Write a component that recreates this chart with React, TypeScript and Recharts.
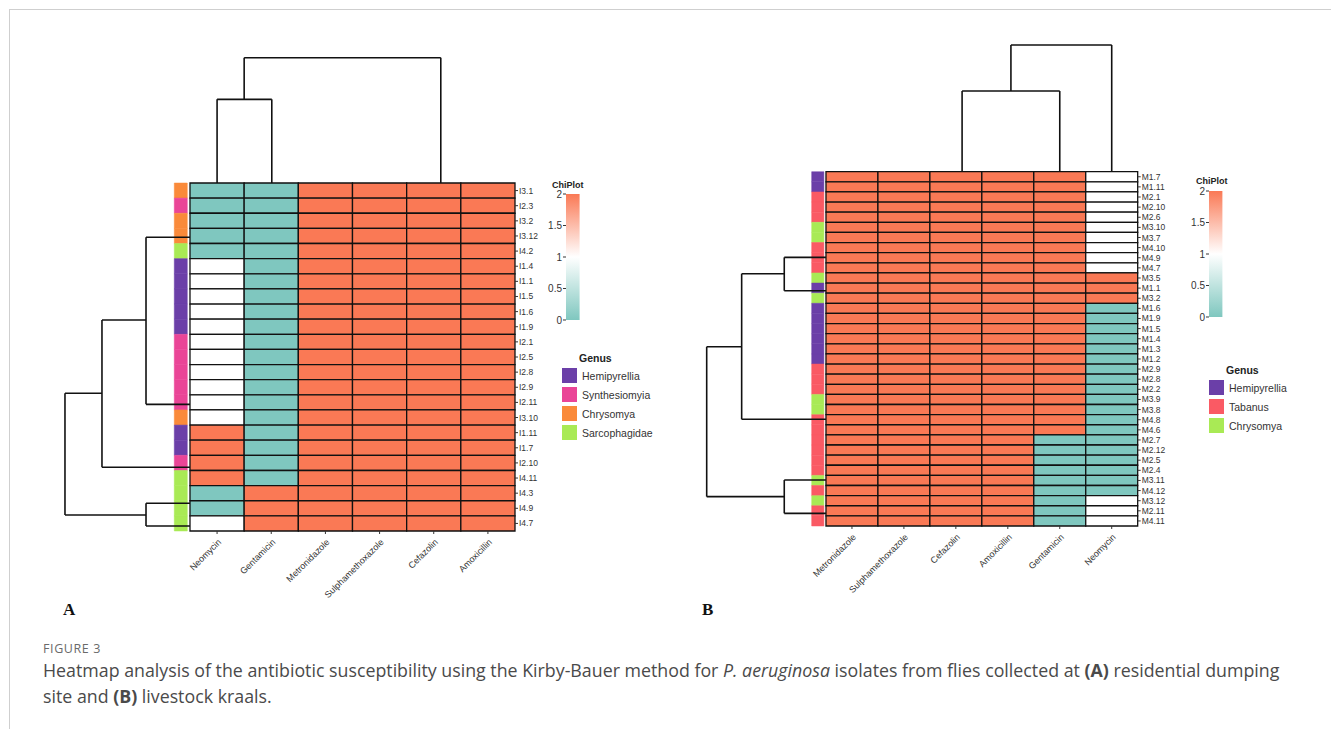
import React from 'react';
import { ComposedChart, XAxis, YAxis, ReferenceArea, ReferenceLine } from 'recharts';

// ---------- colours ----------
const TEAL = '#7FC7BF';
const RED = '#FA7955';
const WHITE = '#FFFFFF';
const valueColor = (v: number) => (v === 0 ? TEAL : v === 1 ? WHITE : RED);

// ---------- Panel A data ----------
const drugsA = ['Neomycin', 'Gentamicin', 'Metronidazole', 'Sulphamethoxazole', 'Cefazolin', 'Amoxicillin'];
const isolatesA = ['I3.1', 'I2.3', 'I3.2', 'I3.12', 'I4.2', 'I1.4', 'I1.1', 'I1.5', 'I1.6', 'I1.9', 'I2.1', 'I2.5', 'I2.8', 'I2.9', 'I2.11', 'I3.10', 'I1.11', 'I1.7', 'I2.10', 'I4.11', 'I4.3', 'I4.9', 'I4.7'];
const neomycinA = [0, 0, 0, 0, 0, 1, 1, 1, 1, 1, 1, 1, 1, 1, 1, 1, 2, 2, 2, 2, 0, 0, 1];
const gentamicinA = [0, 0, 0, 0, 0, 0, 0, 0, 0, 0, 0, 0, 0, 0, 0, 0, 0, 0, 0, 0, 2, 2, 2];
const metronidazoleA = [2, 2, 2, 2, 2, 2, 2, 2, 2, 2, 2, 2, 2, 2, 2, 2, 2, 2, 2, 2, 2, 2, 2];
const sulphaA = [2, 2, 2, 2, 2, 2, 2, 2, 2, 2, 2, 2, 2, 2, 2, 2, 2, 2, 2, 2, 2, 2, 2];
const cefazolinA = [2, 2, 2, 2, 2, 2, 2, 2, 2, 2, 2, 2, 2, 2, 2, 2, 2, 2, 2, 2, 2, 2, 2];
const amoxicillinA = [2, 2, 2, 2, 2, 2, 2, 2, 2, 2, 2, 2, 2, 2, 2, 2, 2, 2, 2, 2, 2, 2, 2];
const genusA = ['Chrysomya', 'Synthesiomyia', 'Chrysomya', 'Chrysomya', 'Sarcophagidae', 'Hemipyrellia', 'Hemipyrellia', 'Hemipyrellia', 'Hemipyrellia', 'Hemipyrellia', 'Synthesiomyia', 'Synthesiomyia', 'Synthesiomyia', 'Synthesiomyia', 'Synthesiomyia', 'Chrysomya', 'Hemipyrellia', 'Hemipyrellia', 'Synthesiomyia', 'Sarcophagidae', 'Sarcophagidae', 'Sarcophagidae', 'Sarcophagidae'];
const genusNamesA = ['Hemipyrellia', 'Synthesiomyia', 'Chrysomya', 'Sarcophagidae'];
const genusColorsA: Record<string, string> = { Hemipyrellia: '#6B3FA8', Synthesiomyia: '#EA4597', Chrysomya: '#FA8A3A', Sarcophagidae: '#A9EA55' };
// dendrogram segments [x1, y1, x2, y2] in (column, row) units
const rowTreeA = [
  [-0.812, 3.59, -0.812, 14.63], [-0.812, 3.59, 0, 3.59], [-0.812, 14.63, 0, 14.63],
  [-1.625, 9.05, -0.812, 9.05], [-1.625, 9.05, -1.625, 18.79], [-1.625, 18.79, 0, 18.79],
  [-2.308, 13.9, -1.625, 13.9], [-2.308, 13.9, -2.308, 21.94], [-2.308, 21.94, -0.812, 21.94],
  [-0.812, 21.17, -0.812, 22.67], [-0.812, 21.17, 0, 21.17], [-0.812, 22.67, 0, 22.67],
];
const colTreeA = [
  [1.0, -8.28, 4.63, -8.28], [1.0, -8.28, 1.0, -5.53], [0.5, -5.53, 1.51, -5.53],
  [0.5, -5.53, 0.5, 0], [1.51, -5.53, 1.51, 0], [4.63, -8.28, 4.63, 0],
];

// ---------- Panel B data ----------
const drugsB = ['Metronidazole', 'Sulphamethoxazole', 'Cefazolin', 'Amoxicillin', 'Gentamicin', 'Neomycin'];
const isolatesB = ['M1.7', 'M1.11', 'M2.1', 'M2.10', 'M2.6', 'M3.10', 'M3.7', 'M4.10', 'M4.9', 'M4.7', 'M3.5', 'M1.1', 'M3.2', 'M1.6', 'M1.9', 'M1.5', 'M1.4', 'M1.3', 'M1.2', 'M2.9', 'M2.8', 'M2.2', 'M3.9', 'M3.8', 'M4.8', 'M4.6', 'M2.7', 'M2.12', 'M2.5', 'M2.4', 'M3.11', 'M4.12', 'M3.12', 'M2.11', 'M4.11'];
const metronidazoleB = [2, 2, 2, 2, 2, 2, 2, 2, 2, 2, 2, 2, 2, 2, 2, 2, 2, 2, 2, 2, 2, 2, 2, 2, 2, 2, 2, 2, 2, 2, 2, 2, 2, 2, 2];
const sulphaB = [2, 2, 2, 2, 2, 2, 2, 2, 2, 2, 2, 2, 2, 2, 2, 2, 2, 2, 2, 2, 2, 2, 2, 2, 2, 2, 2, 2, 2, 2, 2, 2, 2, 2, 2];
const cefazolinB = [2, 2, 2, 2, 2, 2, 2, 2, 2, 2, 2, 2, 2, 2, 2, 2, 2, 2, 2, 2, 2, 2, 2, 2, 2, 2, 2, 2, 2, 2, 2, 2, 2, 2, 2];
const amoxicillinB = [2, 2, 2, 2, 2, 2, 2, 2, 2, 2, 2, 2, 2, 2, 2, 2, 2, 2, 2, 2, 2, 2, 2, 2, 2, 2, 2, 2, 2, 2, 2, 2, 2, 2, 2];
const gentamicinB = [2, 2, 2, 2, 2, 2, 2, 2, 2, 2, 2, 2, 2, 2, 2, 2, 2, 2, 2, 2, 2, 2, 2, 2, 2, 2, 0, 0, 0, 0, 0, 0, 0, 0, 0];
const neomycinB = [1, 1, 1, 1, 1, 1, 1, 1, 1, 1, 2, 2, 2, 0, 0, 0, 0, 0, 0, 0, 0, 0, 0, 0, 0, 0, 0, 0, 0, 0, 0, 0, 1, 1, 1];
const genusB = ['Hemipyrellia', 'Hemipyrellia', 'Tabanus', 'Tabanus', 'Tabanus', 'Chrysomya', 'Chrysomya', 'Tabanus', 'Tabanus', 'Tabanus', 'Chrysomya', 'Hemipyrellia', 'Chrysomya', 'Hemipyrellia', 'Hemipyrellia', 'Hemipyrellia', 'Hemipyrellia', 'Hemipyrellia', 'Hemipyrellia', 'Tabanus', 'Tabanus', 'Tabanus', 'Chrysomya', 'Chrysomya', 'Tabanus', 'Tabanus', 'Tabanus', 'Tabanus', 'Tabanus', 'Tabanus', 'Chrysomya', 'Tabanus', 'Chrysomya', 'Tabanus', 'Tabanus'];
const genusNamesB = ['Hemipyrellia', 'Tabanus', 'Chrysomya'];
const genusColorsB: Record<string, string> = { Hemipyrellia: '#6B3FA8', Tabanus: '#FA5A64', Chrysomya: '#A9EA55' };
const rowTreeB = [
  [-0.803, 8.46, -0.803, 11.76], [-0.803, 8.46, 0, 8.46], [-0.803, 11.76, 0, 11.76],
  [-1.623, 10.08, -0.803, 10.08], [-1.623, 10.08, -1.623, 24.46], [-1.623, 24.46, 0, 24.46],
  [-2.296, 17.29, -1.623, 17.29], [-2.296, 17.29, -2.296, 32.1], [-2.296, 32.1, -0.803, 32.1],
  [-0.803, 30.46, -0.803, 33.75], [-0.803, 30.46, 0, 30.46], [-0.803, 33.75, 0, 33.75],
];
const colTreeB = [
  [3.56, -12.52, 5.5, -12.52], [3.56, -12.52, 3.56, -7.97], [2.62, -7.97, 4.5, -7.97],
  [2.62, -7.97, 2.62, 0], [4.5, -7.97, 4.5, 0], [5.5, -12.52, 5.5, 0],
];

const colorTicks = [0, 0.5, 1, 1.5, 2];
const FONT = '"Liberation Sans", Arial, Helvetica, sans-serif';

type PanelProps = {
  drugs: string[];
  isolates: string[];
  columns: number[][];
  genus: string[];
  genusColors: Record<string, string>;
  rowTree: number[][];
  colTree: number[][];
  xDomain: [number, number];
  yDomain: [number, number];
  plot: { left: number; right: number; top: number; bottom: number };
  chartLeft: number;
  barX: [number, number];
  labelFont: number;
};

const XTick = (props: any) => {
  const { x, y, payload, drugs } = props;
  const label = drugs[Math.floor(payload.value)];
  return (
    <g transform={`translate(${x + 3},${y + 5})`}>
      <text x={0} y={0} textAnchor="end" fontSize={9} fill="#333" transform="rotate(-45)" dominantBaseline="middle">
        {label}
      </text>
    </g>
  );
};

function HeatPanel(p: PanelProps) {
  const yw = 40;
  const xh = 90;
  const W = p.plot.right - p.chartLeft + yw + 4;
  const H = p.plot.bottom + xh + 4;
  const xTicks = p.drugs.map((_, i) => i + 0.5);
  const yTicks = p.isolates.map((_, i) => i + 0.5);
  return (
    <div style={{ position: 'absolute', left: p.chartLeft, top: 0, width: W, height: H }}>
      <ComposedChart
        width={W}
        height={H}
        margin={{ left: p.plot.left - p.chartLeft, top: p.plot.top, right: 4, bottom: 4 }}
      >
        <XAxis
          type="number"
          dataKey="x"
          domain={p.xDomain}
          allowDataOverflow
          ticks={xTicks}
          interval={0}
          height={xh}
          axisLine={false}
          tickSize={3}
          tickLine={{ stroke: '#333' }}
          tick={<XTick drugs={p.drugs} />}
        />
        <YAxis
          type="number"
          dataKey="y"
          orientation="right"
          reversed
          domain={p.yDomain}
          allowDataOverflow
          ticks={yTicks}
          interval={0}
          width={yw}
          axisLine={false}
          tickSize={3}
          tickMargin={1}
          tickLine={{ stroke: '#333' }}
          tick={{ fontSize: p.labelFont, fill: '#333' }}
          tickFormatter={(v: number) => p.isolates[Math.floor(v)]}
        />
        {p.genus.map((g, i) => (
          <ReferenceArea
            key={'g' + i}
            x1={p.barX[0]}
            x2={p.barX[1]}
            y1={i}
            y2={i + 1}
            fill={p.genusColors[g]}
            fillOpacity={1}
            stroke={p.genusColors[g]}
            strokeWidth={0.5}
            ifOverflow="visible"
          />
        ))}
        {p.columns.map((col, c) =>
          col.map((v, r) => (
            <ReferenceArea
              key={`c${c}-${r}`}
              x1={c}
              x2={c + 1}
              y1={r}
              y2={r + 1}
              fill={valueColor(v)}
              fillOpacity={1}
              stroke="#111"
              strokeWidth={1.3}
              ifOverflow="visible"
            />
          ))
        )}
        {[...p.rowTree, ...p.colTree].map((s, i) => (
          <ReferenceLine
            key={'d' + i}
            segment={[{ x: s[0], y: s[1] }, { x: s[2], y: s[3] }]}
            stroke="#111"
            strokeWidth={1.6}
            ifOverflow="visible"
          />
        ))}
      </ComposedChart>
    </div>
  );
}

function ColorBar(props: { id: string; left: number; right: number; top: number; bottom: number }) {
  const cl = props.left - 34;
  const ct = props.top - 8;
  const W = props.right - cl + 4;
  const H = props.bottom - ct + 8;
  return (
    <div style={{ position: 'absolute', left: cl, top: ct, width: W, height: H }}>
      <ComposedChart width={W} height={H} margin={{ left: 4, top: 8, right: 4, bottom: 8 }}>
        <defs>
          <linearGradient id={props.id} x1="0" y1="0" x2="0" y2="1">
            <stop offset="0%" stopColor={RED} />
            <stop offset="50%" stopColor={WHITE} />
            <stop offset="100%" stopColor={TEAL} />
          </linearGradient>
        </defs>
        <XAxis type="number" dataKey="x" domain={[0, 1]} hide allowDataOverflow />
        <YAxis
          type="number"
          dataKey="y"
          domain={[0, 2]}
          ticks={colorTicks}
          interval={0}
          width={30}
          axisLine={false}
          tickSize={3}
          tickMargin={1}
          tickLine={{ stroke: '#333' }}
          tick={{ fontSize: 10, fill: '#333' }}
          allowDataOverflow
        />
        <ReferenceArea x1={0} x2={1} y1={0} y2={2} fill={`url(#${props.id})`} fillOpacity={1} stroke="none" ifOverflow="visible" />
      </ComposedChart>
    </div>
  );
}

function GenusLegend(props: { left: number; top: number; names: string[]; colors: Record<string, string> }) {
  return (
    <div style={{ position: 'absolute', left: props.left, top: props.top, fontFamily: FONT, color: '#222' }}>
      <div style={{ fontWeight: 'bold', fontSize: 10.5, marginLeft: 17, height: 16, lineHeight: '16px' }}>Genus</div>
      {props.names.map((n) => (
        <div key={n} style={{ display: 'flex', alignItems: 'center', height: 19 }}>
          <div style={{ width: 15, height: 15, background: props.colors[n], marginRight: 5 }} />
          <span style={{ fontSize: 10.5, color: '#333' }}>{n}</span>
        </div>
      ))}
    </div>
  );
}

export default function App() {
  return (
    <div style={{ position: 'absolute', left: 0, top: 0, width: 1331, height: 729, background: '#fff', fontFamily: FONT, overflow: 'hidden' }}>
      <div style={{ position: 'absolute', left: 9, top: 9, width: 1322, height: 1, background: '#cfcfcf' }} />
      <div style={{ position: 'absolute', left: 9, top: 9, width: 1, height: 720, background: '#cfcfcf' }} />

      <HeatPanel
        drugs={drugsA}
        isolates={isolatesA}
        columns={[neomycinA, gentamicinA, metronidazoleA, sulphaA, cefazolinA, amoxicillinA]}
        genus={genusA}
        genusColors={genusColorsA}
        rowTree={rowTreeA}
        colTree={colTreeA}
        xDomain={[-2.5, 6]}
        yDomain={[-9, 23]}
        plot={{ left: 54.575, right: 515, top: 46.83, bottom: 531 }}
        chartLeft={20}
        barX={[-0.29, -0.05]}
        labelFont={8.5}
      />
      <HeatPanel
        drugs={drugsB}
        isolates={isolatesB}
        columns={[metronidazoleB, sulphaB, cefazolinB, amoxicillinB, gentamicinB, neomycinB]}
        genus={genusB}
        genusColors={genusColorsB}
        rowTree={rowTreeB}
        colTree={colTreeB}
        xDomain={[-2.5, 6]}
        yDomain={[-13, 35]}
        plot={{ left: 696.1, right: 1137.7, top: 40.1, bottom: 526 }}
        chartLeft={670}
        barX={[-0.275, -0.04]}
        labelFont={8.5}
      />

      <div style={{ position: 'absolute', left: 552, top: 180, fontSize: 9, fontWeight: 'bold', color: '#222' }}>ChiPlot</div>
      <ColorBar id="gradA" left={565.7} right={579.3} top={194} bottom={320} />
      <GenusLegend left={562} top={350} names={genusNamesA} colors={genusColorsA} />

      <div style={{ position: 'absolute', left: 1196, top: 176, fontSize: 9, fontWeight: 'bold', color: '#222' }}>ChiPlot</div>
      <ColorBar id="gradB" left={1209.3} right={1222.7} top={190.7} bottom={316.7} />
      <GenusLegend left={1209} top={362} names={genusNamesB} colors={genusColorsB} />

      <div style={{ position: 'absolute', left: 63, top: 600, fontFamily: '"Liberation Serif", "Times New Roman", serif', fontWeight: 'bold', fontSize: 17, color: '#111' }}>A</div>
      <div style={{ position: 'absolute', left: 702, top: 600, fontFamily: '"Liberation Serif", "Times New Roman", serif', fontWeight: 'bold', fontSize: 17, color: '#111' }}>B</div>

      <div style={{ position: 'absolute', left: 43, top: 640, fontFamily: '"Open Sans", "Noto Sans", sans-serif', fontSize: 12.5, color: '#6a6a6a', letterSpacing: 0.6 }}>FIGURE 3</div>
      <div style={{ position: 'absolute', left: 43, top: 657, fontFamily: '"Open Sans", "Noto Sans", sans-serif', fontSize: 17.8, lineHeight: '26px', color: '#4a4a4a', whiteSpace: 'nowrap' }}>
        Heatmap analysis of the antibiotic susceptibility using the Kirby-Bauer method for <i>P. aeruginosa</i> isolates from flies collected at <b>(A)</b> residential dumping
        <br />
        site and <b>(B)</b> livestock kraals.
      </div>
    </div>
  );
}
